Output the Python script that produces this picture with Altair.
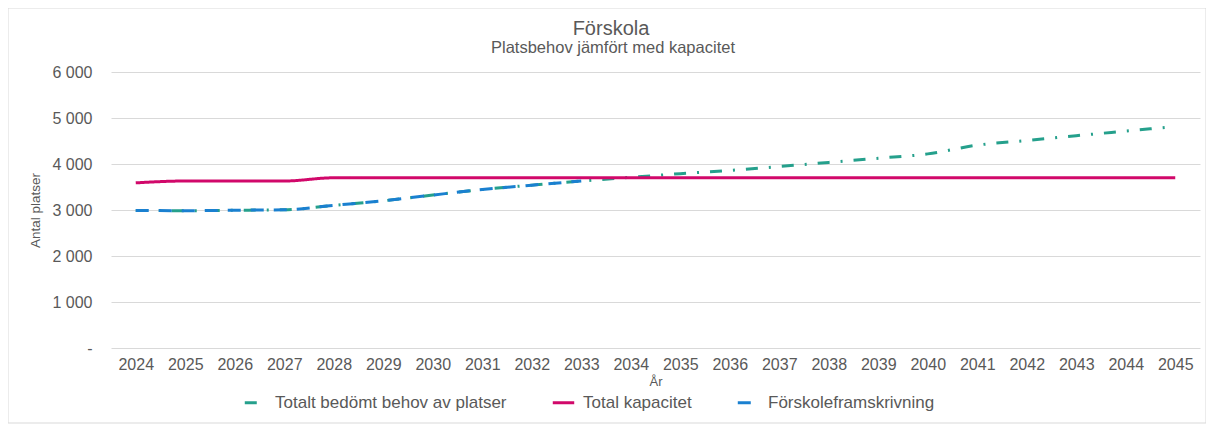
import altair as alt
import pandas as pd

years = [str(y) for y in range(2024, 2046)]

behov = [2990, 2985, 2995, 3005, 3100, 3200, 3325, 3445, 3540, 3630, 3710,
         3790, 3860, 3945, 4035, 4125, 4220, 4410, 4510, 4615, 4715, 4815]
kapacitet = [3590, 3630, 3630, 3630, 3700, 3700, 3700, 3700, 3700, 3700, 3700,
             3700, 3700, 3700, 3700, 3700, 3700, 3700, 3700, 3700, 3700, 3700]
framskrivning = [2990, 2985, 2995, 3005, 3100, 3200, 3325, 3445, 3540, 3630]

series_names = ["Totalt bedömt behov av platser", "Total kapacitet", "Förskoleframskrivning"]
series_values = [behov, kapacitet, framskrivning]
colors = ["#25a08c", "#d1086a", "#1a80d0"]
dashes = [[12, 11, 2, 11], [1, 0], [13, 10]]
y_ticks = [0, 1000, 2000, 3000, 4000, 5000, 6000]

title_text = "Förskola"
subtitle_text = "Platsbehov jämfört med kapacitet"

rows = []
for name, vals in zip(series_names, series_values):
    for yr, v in zip(years, vals):
        rows.append({"År": yr, "Antal": v, "Serie": name})
df = pd.DataFrame(rows)

TXT = "#595959"
FONT = "Liberation Sans"

legend = alt.Legend(
    title=None, orient="none", legendX=132, legendY=318, direction="horizontal",
    symbolType="stroke", symbolStrokeWidth=3, symbolSize=460,
    labelFontSize=17, labelColor=TXT, labelFont=FONT, columnPadding=39,
    labelOffset=7, labelLimit=400,
)

x_enc = alt.X(
    "År:O", scale=alt.Scale(type="point", padding=0.5),
    axis=alt.Axis(labelAngle=0, ticks=False, domain=False, grid=False,
                  labelFontSize=16, labelColor=TXT, labelPadding=8,
                  title="År", titleFontSize=13, titleColor=TXT,
                  titleFontWeight="normal", titlePadding=3),
)
y_enc = alt.Y(
    "Antal:Q", scale=alt.Scale(domain=[0, 6000], nice=False),
    axis=alt.Axis(values=y_ticks, grid=True, gridColor="#d9d9d9", gridWidth=1,
                  domain=False, ticks=False, labelFontSize=16, labelColor=TXT,
                  labelPadding=19,
                  labelExpr="datum.value == 0 ? '-' : replace(format(datum.value, ','), ',', ' ')",
                  title="Antal platser", titleFontSize=13.5, titleColor=TXT,
                  titleFontWeight="normal", titleX=-76, titleY=138,
                  titleAlign="center", titleBaseline="middle", titleAngle=-90),
)
color_enc = alt.Color("Serie:N", scale=alt.Scale(domain=series_names, range=colors), legend=legend)
dash_enc = alt.StrokeDash("Serie:N", scale=alt.Scale(domain=series_names, range=dashes), legend=legend)

def line_layer(name):
    return alt.Chart(df).transform_filter(
        alt.datum.Serie == name
    ).mark_line(strokeWidth=3, interpolate="monotone").encode(
        x=x_enc, y=y_enc, color=color_enc, strokeDash=dash_enc
    )

one_row = alt.Data(values=[{"a": 1}])

border = alt.Chart(one_row).mark_rect(
    fill="white", fillOpacity=0, stroke="#d9d9d9", strokeWidth=1
).encode(
    x=alt.value(-103), x2=alt.value(1095), y=alt.value(-64), y2=alt.value(351)
)

title_mark = alt.Chart(one_row).mark_text(
    text=title_text, fontSize=20, color=TXT, font=FONT, align="center", baseline="middle"
).encode(x=alt.value(500), y=alt.value(-43))

subtitle_mark = alt.Chart(one_row).mark_text(
    text=subtitle_text, fontSize=16.5, color=TXT, font=FONT, align="center", baseline="middle"
).encode(x=alt.value(502), y=alt.value(-24))

chart = alt.layer(
    border,
    title_mark,
    subtitle_mark,
    line_layer(series_names[0]),
    line_layer(series_names[1]),
    line_layer(series_names[2]),
).properties(
    width=1089, height=276,
    autosize=alt.AutoSizeParams(type="none"),
    padding={"left": 103, "top": 64, "right": 6, "bottom": 76},
).configure(font=FONT).configure_view(stroke=None)

chart.save("out.html", embed_options={"renderer": "svg", "actions": False})
